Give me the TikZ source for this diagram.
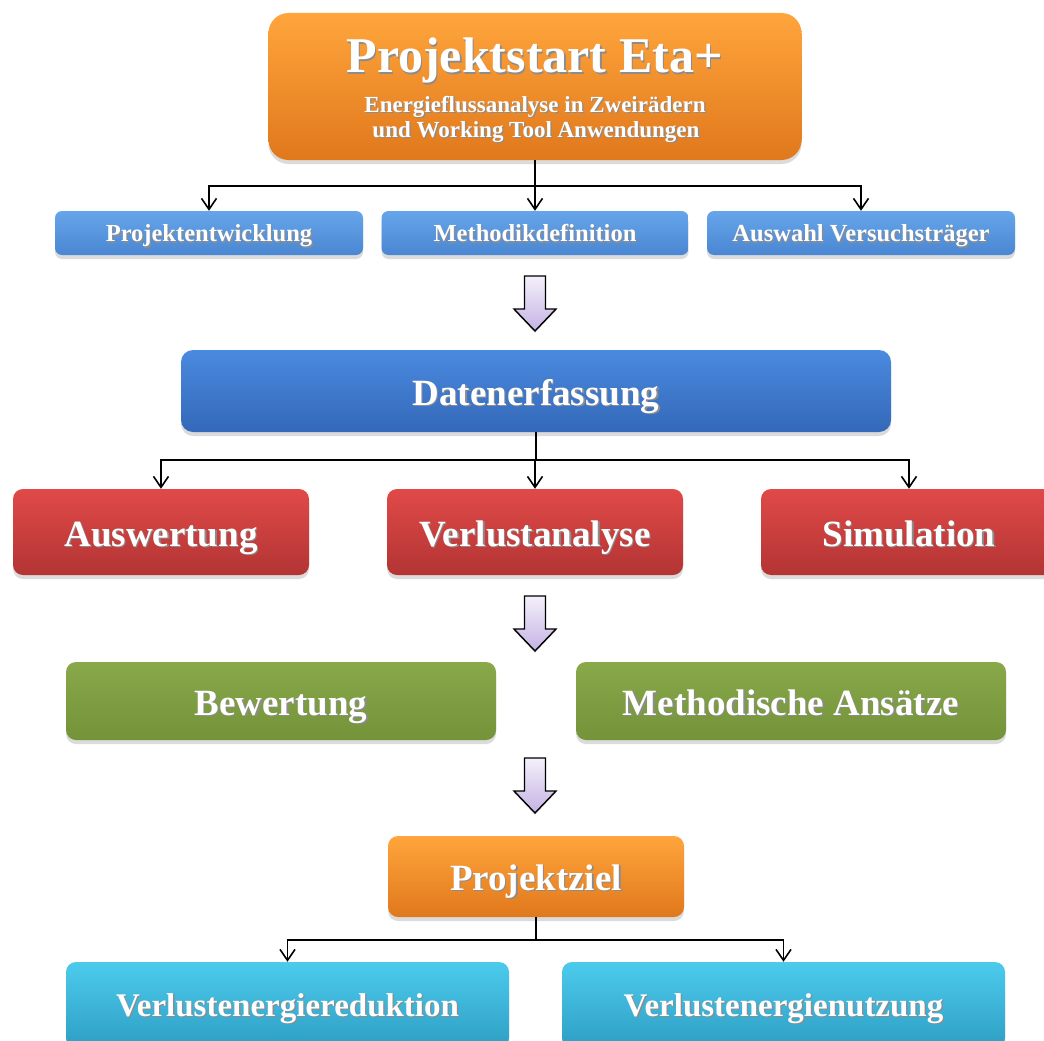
\documentclass[tikz,border=0pt]{standalone}
\usepackage{fontspec}
\setmainfont{Liberation Serif}
\usetikzlibrary{shadows,arrows.meta,calc}
\definecolor{orT}{HTML}{FFA53C}
\definecolor{orB}{HTML}{E0781C}
\definecolor{lbT}{HTML}{66A5EA}
\definecolor{lbB}{HTML}{4A86D2}
\definecolor{dbT}{HTML}{4A8AE0}
\definecolor{dbB}{HTML}{3468B8}
\definecolor{rdT}{HTML}{E04A48}
\definecolor{rdB}{HTML}{B33434}
\definecolor{grT}{HTML}{88A84A}
\definecolor{grB}{HTML}{74933A}
\definecolor{cyT}{HTML}{4CCBEC}
\definecolor{cyB}{HTML}{2E9EC4}
\definecolor{arT}{HTML}{F4F0FA}
\definecolor{arB}{HTML}{C4B2E4}
\newcommand\shtxt[1]{\leavevmode\rlap{\kern1.3pt\raisebox{-1.3pt}{\textcolor{black!45}{#1}}}#1}
\newcommand\fatarrow[2]{%
  \shade[top color=arT,bottom color=arB,draw=black,line width=1.4pt,line join=miter,
    drop shadow={shadow xshift=0pt,shadow yshift=-2pt,opacity=.2}]
    ({#1-10.5},{-#2}) -- ({#1+10.5},{-#2}) -- ({#1+10.5},{-(#2+33)}) -- ({#1+21},{-(#2+33)})
    -- ({#1},{-(#2+55)}) -- ({#1-21},{-(#2+33)}) -- ({#1-10.5},{-(#2+33)}) -- cycle;}
\tikzset{
  box/.style={rectangle, rounded corners=10pt, draw=none, text=white, font=\bfseries,
    align=center, inner sep=0pt,
    drop shadow={shadow xshift=0pt, shadow yshift=-4pt, opacity=.28}},
  orangebox/.style={box, top color=orT, bottom color=orB},
  lbluebox/.style={box, top color=lbT, bottom color=lbB, rounded corners=7pt},
  dbluebox/.style={box, top color=dbT, bottom color=dbB},
  redbox/.style={box, top color=rdT, bottom color=rdB},
  greenbox/.style={box, top color=grT, bottom color=grB},
  cyanbox/.style={box, top color=cyT, bottom color=cyB},
  conn/.style={draw=black, line width=1.8pt},
  arr/.style={conn, -{Straight Barb[length=11pt,width=15pt,line width=1.6pt]}},
  bigtxt/.style={font=\bfseries\fontsize{37}{40}\selectfont, text height=28pt, text depth=0pt},
  midtxt/.style={font=\bfseries\fontsize{33}{36}\selectfont, text height=22pt, text depth=0pt},
  smalltxt/.style={font=\bfseries\fontsize{24.5}{27}\selectfont, text height=17.4pt, text depth=0pt}
}
\begin{document}
\begin{tikzpicture}[x=1pt,y=1pt]
\useasboundingbox (0,0) rectangle (1044,-1041);
\clip (0,0) rectangle (1044,-1041);
\fill[white] (0,0) rectangle (1044,-1041);

% top box
\node[orangebox, rounded corners=20pt, minimum width=533pt, minimum height=147pt] (top) at (535,-86.5) {};
\node[text=white, anchor=base, inner sep=0pt, font=\bfseries\fontsize{50}{54}\selectfont] (toptitle) at (534.5,-73) {\shtxt{Projektstart Eta+}};
\node[text=white, anchor=base, inner sep=0pt, font=\bfseries\fontsize{23}{27}\selectfont] (topsub1) at (535,-112) {\shtxt{Energieflussanalyse in Zweirädern}};
\node[text=white, anchor=base, inner sep=0pt, font=\bfseries\fontsize{23}{27}\selectfont] (topsub2) at (536,-137) {\shtxt{und Working Tool Anwendungen}};

% row 1
\node[lbluebox, smalltxt, minimum width=308pt, minimum height=44pt] (pe) at (209,-233) {\shtxt{Projektentwicklung}};
\node[lbluebox, smalltxt, minimum width=307pt, minimum height=44pt] (md) at (535,-233) {\shtxt{Methodikdefinition}};
\node[lbluebox, smalltxt, minimum width=308pt, minimum height=44pt] (av) at (861,-233) {\shtxt{Auswahl Versuchsträger}};

\coordinate (j1) at (535,-186);
\draw[conn] (top.south) -- (j1);
\draw[arr] (j1) -| (pe.north);
\draw[arr] (j1) -- (md.north);
\draw[arr] (j1) -| (av.north);

\fatarrow{535}{276}

% Datenerfassung
\node[dbluebox, bigtxt, rounded corners=12pt, minimum width=710pt, minimum height=82pt] (de) at (536,-391) {\shtxt{Datenerfassung}};

% row 3
\node[redbox, bigtxt, minimum width=296pt, minimum height=86pt] (aw) at (161,-532) {\shtxt{Auswertung}};
\node[redbox, bigtxt, minimum width=296pt, minimum height=86pt] (va) at (535,-532) {\shtxt{Verlustanalyse}};
\node[redbox, bigtxt, minimum width=296pt, minimum height=86pt] (si) at (909,-532) {\shtxt{Simulation}};

\coordinate (j2) at (536,-460);
\draw[conn] (de.south) -- (j2);
\draw[arr] (j2) -| (aw.north);
\draw[arr] (j2) -| (va.north);
\draw[arr] (j2) -| (si.north);

\fatarrow{535}{596}

% row 4
\node[greenbox, bigtxt, minimum width=430pt, minimum height=78pt] (bw) at (281,-701) {\shtxt{Bewertung}};
\node[greenbox, bigtxt, minimum width=430pt, minimum height=78pt] (ma) at (791,-701) {\shtxt{Methodische Ansätze}};

\fatarrow{535}{758}

% Projektziel
\node[orangebox, bigtxt, minimum width=296pt, minimum height=81pt] (pz) at (536,-876.5) {\shtxt{Projektziel}};

% row 5
\node[cyanbox, midtxt, minimum width=443pt, minimum height=86pt] (vr) at (287.5,-1005) {\shtxt{Verlustenergiereduktion}};
\node[cyanbox, midtxt, minimum width=443pt, minimum height=86pt] (vn) at (783.5,-1005) {\shtxt{Verlustenergienutzung}};

\coordinate (j3) at (536,-940);
\draw[conn] (pz.south) -- (j3);
\draw[arr] (j3) -| (vr.north);
\draw[arr] (j3) -| (vn.north);
\end{tikzpicture}
\end{document}
